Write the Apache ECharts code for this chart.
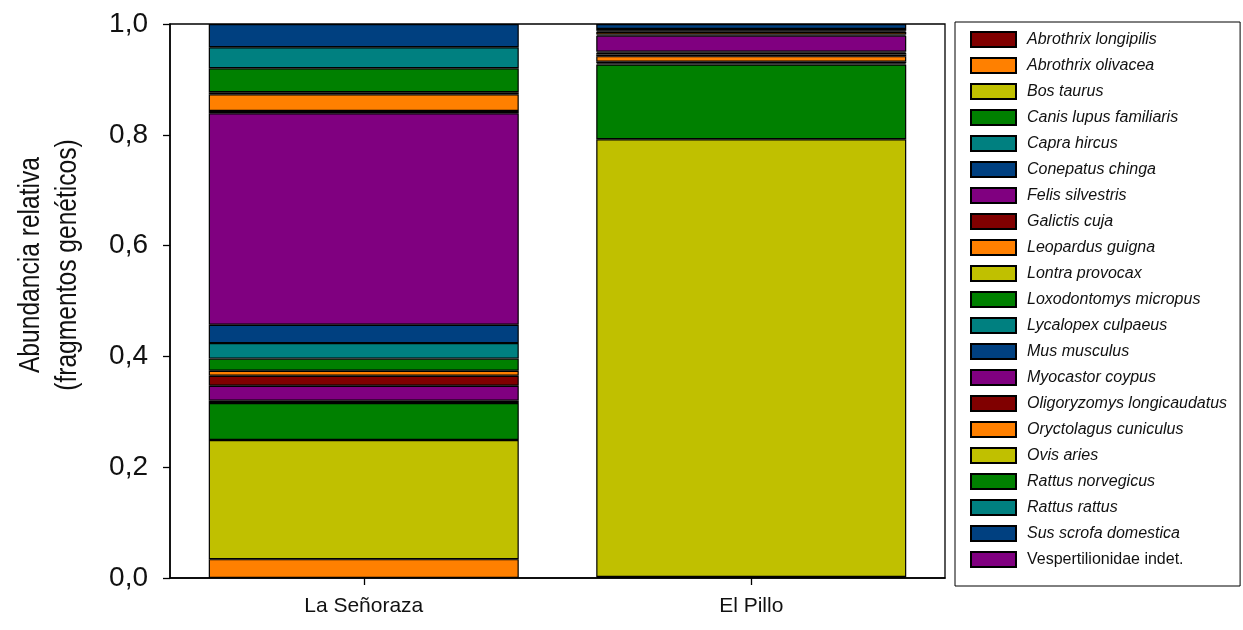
<!DOCTYPE html>
<html>
<head>
<meta charset="utf-8">
<script src="https://cdn.jsdelivr.net/npm/echarts@6/dist/echarts.min.js"></script>
<style>
  html, body { margin: 0; padding: 0; background: #fff; }
  #chart { width: 1243px; height: 630px; }
</style>
</head>
<body>
<div id="chart"></div>
<script>
// Sites (x categories)
const categories = ['La Señoraza', 'El Pillo'];

// Taxa, in stacking order from the bottom of each bar
const species = [
  'Abrothrix longipilis', 'Abrothrix olivacea', 'Bos taurus', 'Canis lupus familiaris',
  'Capra hircus', 'Conepatus chinga', 'Felis silvestris', 'Galictis cuja',
  'Leopardus guigna', 'Lontra provocax', 'Loxodontomys micropus', 'Lycalopex culpaeus',
  'Mus musculus', 'Myocastor coypus', 'Oligoryzomys longicaudatus', 'Oryctolagus cuniculus',
  'Ovis aries', 'Rattus norvegicus', 'Rattus rattus', 'Sus scrofa domestica',
  'Vespertilionidae indet.'
];

// Relative abundance per taxon (same order as species)
const senorazaValues = [
  0, 0.034, 0.215, 0.067, 0, 0.004, 0.027, 0.018, 0.009, 0, 0.022,
  0.028, 0.033, 0.382, 0.004, 0.030, 0.004, 0.043, 0.038, 0.042, 0
];
const pilloValues = [
  0, 0.002, 0.790, 0.135, 0.002, 0, 0, 0.003, 0.010, 0, 0.003,
  0.003, 0.002, 0.029, 0.002, 0.005, 0, 0.002, 0.003, 0.009, 0
];

// Y axis ticks
const yTicks = [0, 0.2, 0.4, 0.6, 0.8, 1.0];

// Seven-colour cycle repeated over the taxa
const palette = ['#800000', '#FF8000', '#C0C000', '#008000', '#008080', '#004080', '#800080'];

const FONT = '"Liberation Sans", Arial, sans-serif';

const series = species.map((name, i) => ({
  name: name,
  type: 'bar',
  stack: 'total',
  barWidth: '80%',
  data: [senorazaValues[i], pilloValues[i]].map(v => (v === 0 ? null : v)),
  itemStyle: {
    color: palette[i % palette.length],
    borderColor: '#000',
    borderWidth: 1.2
  },
  emphasis: { disabled: true }
}));

const chart = echarts.init(document.getElementById('chart'), null, { renderer: 'canvas' });

chart.setOption({
  animation: false,
  backgroundColor: '#fff',
  grid: {
    left: 170, top: 24, right: 298, bottom: 52,
    show: true, borderColor: '#000', borderWidth: 1.3, backgroundColor: 'transparent'
  },
  xAxis: {
    type: 'category',
    data: categories,
    boundaryGap: true,
    axisLine: { show: true, lineStyle: { color: '#000', width: 1.5 } },
    axisTick: { show: true, alignWithLabel: true, length: 7, lineStyle: { color: '#000', width: 1.3 } },
    axisLabel: { margin: 18, fontFamily: FONT, fontSize: 21, color: '#111' },
    splitLine: { show: false }
  },
  yAxis: {
    type: 'value',
    min: yTicks[0],
    max: yTicks[yTicks.length - 1],
    interval: 0.2,
    axisLine: { show: true, lineStyle: { color: '#000', width: 1.5 } },
    axisTick: { show: true, length: 7, lineStyle: { color: '#000', width: 1.3 } },
    axisLabel: {
      margin: 22, fontFamily: FONT, fontSize: 28, color: '#111',
      formatter: v => v.toFixed(1).replace('.', ',')
    },
    splitLine: { show: false }
  },
  legend: {
    orient: 'vertical',
    left: 955,
    top: 22,
    padding: [9, 13, 18, 15],
    itemWidth: 45,
    itemHeight: 15,
    itemGap: 9,
    icon: 'rect',
    borderColor: '#000',
    borderWidth: 1,
    backgroundColor: '#fff',
    selectedMode: false,
    data: species,
    formatter: name => (name === 'Vespertilionidae indet.' ? '{n|' + name + '}' : '{i|' + name + '}'),
    textStyle: {
      fontFamily: FONT,
      fontSize: 16,
      color: '#111',
      lineHeight: 15,
      padding: [0, 0, 0, 6],
      rich: {
        i: { fontFamily: FONT, fontSize: 16, fontStyle: 'italic', color: '#111', lineHeight: 15 },
        n: { fontFamily: FONT, fontSize: 16, color: '#111', lineHeight: 15 }
      }
    }
  },
  graphic: [{
    type: 'text',
    x: 49,
    y: 265,
    rotation: Math.PI / 2,
    scaleX: 0.82,
    style: {
      text: 'Abundancia relativa\n(fragmentos genéticos)',
      font: '30px ' + FONT,
      fill: '#111',
      align: 'center',
      verticalAlign: 'middle',
      lineHeight: 37
    }
  }],
  series: series
});
</script>
</body>
</html>
